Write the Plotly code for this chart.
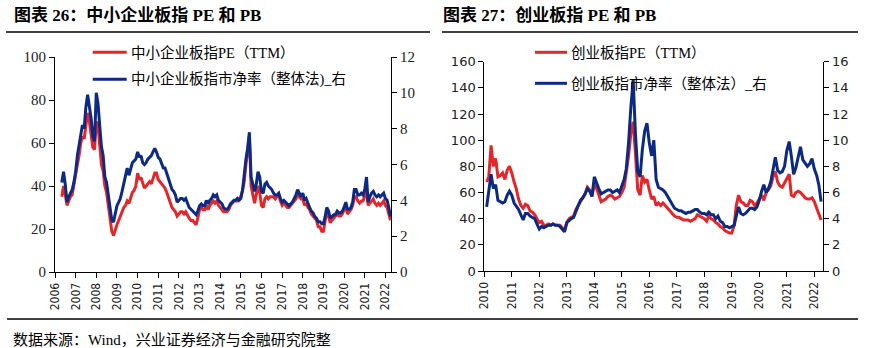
import pandas as pd
import plotly.graph_objects as go

# ---------------- data ----------------
# SME board index (中小企业板指), monthly readings May-2006 .. Apr-2022
sme_dates = pd.date_range("2006-05-01", "2022-04-01", freq="MS")
sme_pe = [
    35, 40, 36, 31, 33, 35, 36, 40,                      # 2006 (May-Dec)
    45, 50, 54, 60, 63, 62, 68, 74, 70, 64, 58, 57,      # 2007
    70, 68, 60, 50, 47, 40, 37, 30, 25, 19, 17, 20,      # 2008
    22, 24, 26, 28, 30, 31, 33, 32, 35, 37, 38, 40,      # 2009
    46, 43, 44, 41, 39, 40, 41, 42, 41, 44, 46, 46,      # 2010
    43, 42, 41, 40, 39, 37, 35, 33, 30, 29, 28, 26,      # 2011
    27, 28, 28, 27, 28, 26, 25, 24, 24, 23, 22, 25,      # 2012
    29, 30, 29, 29, 31, 29, 31, 32, 33, 32, 33, 31,      # 2013
    30, 29, 28, 28, 28, 29, 31, 32, 33, 33, 33, 34,      # 2014
    35, 38, 42, 50, 56, 63, 40, 35, 32, 36, 40, 37,      # 2015
    31, 30, 34, 35, 34, 35, 35, 35, 34, 35, 36, 33,      # 2016
    31, 32, 31, 30, 30, 31, 32, 33, 34, 36, 35, 34,      # 2017
    34, 31, 32, 30, 29, 27, 26, 25, 24, 21, 21, 19,      # 2018
    19, 24, 28, 26, 23, 24, 25, 26, 27, 26, 26, 27,      # 2019
    29, 30, 27, 28, 29, 31, 35, 35, 33, 32, 33, 33,      # 2020
    36, 38, 31, 32, 33, 34, 32, 31, 32, 31, 32, 33,      # 2021
    31, 30, 27, 24,                                      # 2022 (Jan-Apr)
]
sme_pb = [
    5.0, 5.6, 4.9, 3.9, 4.2, 4.4, 4.6, 5.0,
    5.6, 6.5, 7.0, 7.7, 8.2, 8.0, 9.2, 9.9, 9.3, 8.6, 7.6, 7.3,
    10.0, 9.4, 8.2, 7.0, 6.5, 5.3, 5.0, 4.2, 3.6, 2.9, 2.8, 3.3,
    3.7, 3.9, 4.1, 4.5, 5.0, 5.5, 5.8, 5.4, 5.7, 6.1, 6.2, 6.3,
    6.7, 6.4, 6.5, 6.1, 6.0, 6.1, 6.3, 6.4, 6.5, 6.7, 6.9, 6.7,
    6.4, 6.3, 6.1, 5.8, 5.8, 5.5, 5.3, 5.0, 4.6, 4.5, 4.3, 3.9,
    4.0, 4.1, 4.1, 4.0, 4.1, 3.8, 3.6, 3.5, 3.4, 3.3, 3.2, 3.4,
    3.7, 3.8, 3.7, 3.7, 4.0, 3.8, 4.0, 4.1, 4.3, 4.2, 4.3, 4.0,
    3.9, 3.8, 3.6, 3.5, 3.5, 3.6, 3.8, 3.9, 4.0, 4.0, 4.1, 4.0,
    4.1, 4.6, 5.6, 6.3, 6.9, 7.8, 5.3, 4.8, 4.5, 4.9, 5.6, 5.3,
    4.5, 4.4, 4.9, 5.0, 4.8, 4.7, 4.6, 4.4, 4.3, 4.3, 4.4, 4.1,
    3.9, 4.0, 3.9, 3.8, 3.7, 3.8, 3.9, 4.1, 4.3, 4.6, 4.4, 4.2,
    4.4, 4.0, 4.1, 3.8, 3.6, 3.4, 3.3, 3.1, 3.0, 2.8, 2.8, 2.7,
    2.7, 3.1, 3.6, 3.4, 3.0, 3.1, 3.2, 3.2, 3.4, 3.3, 3.3, 3.4,
    3.6, 3.9, 3.5, 3.5, 3.6, 3.9, 4.6, 4.6, 4.3, 4.3, 4.4, 4.3,
    4.6, 5.3, 3.9, 4.2, 4.4, 4.5, 4.3, 4.2, 4.3, 4.2, 4.3, 4.4,
    4.1, 4.0, 3.6, 3.1,
]

# ChiNext index (创业板指), monthly readings Feb-2010 .. Apr-2022
gem_dates = pd.date_range("2010-02-01", "2022-04-01", freq="MS")
gem_pe = [
    68, 72, 96, 80, 86, 72, 73, 75, 70, 77, 80,          # 2010 (Feb-Dec)
    75, 68, 63, 55, 50, 48, 51, 50, 46, 45, 43, 40,      # 2011
    37, 38, 35, 35, 36, 35, 36, 35, 35, 35, 33, 31,      # 2012
    37, 40, 41, 42, 47, 50, 54, 56, 59, 64, 62, 57,      # 2013
    66, 63, 58, 53, 54, 55, 57, 58, 57, 55, 56, 57,      # 2014
    60, 64, 75, 88, 105, 114, 90, 62, 58, 73, 68, 70,    # 2015
    62, 55, 57, 50, 52, 50, 52, 50, 48, 46, 44, 42,      # 2016
    41, 41, 40, 39, 39, 39, 38, 39, 40, 43, 42, 41,      # 2017
    40, 38, 42, 40, 39, 37, 36, 34, 33, 31, 30, 29,      # 2018
    29, 35, 50, 58, 53, 52, 50, 50, 54, 53, 50, 52,      # 2019
    55, 58, 54, 60, 62, 65, 72, 76, 68, 65, 64, 67,      # 2020
    70, 74, 58, 57, 60, 61, 60, 58, 56, 55, 55, 56,      # 2021
    53, 48, 44, 39,                                      # 2022 (Jan-Apr)
]
gem_pb = [
    4.9, 6.0, 7.4, 6.3, 6.6, 5.4, 5.3, 5.2, 5.3, 5.8, 6.1,
    5.8, 5.2, 5.0, 4.7, 4.3, 3.9, 4.4, 4.4, 4.2, 4.1, 4.0, 3.6,
    3.2, 3.4, 3.3, 3.4, 3.5, 3.5, 3.6, 3.5, 3.5, 3.4, 3.2, 3.0,
    3.7, 3.9, 4.0, 4.1, 4.6, 5.0, 5.4, 5.6, 5.9, 6.3, 6.1, 5.7,
    7.2, 6.8, 6.3, 5.9, 6.0, 6.1, 6.2, 6.2, 6.0, 6.1, 6.2, 6.0,
    6.5, 7.0, 7.8, 9.8, 12.5, 14.6, 10.5, 7.6, 7.2, 9.3, 10.7, 11.3,
    9.8, 8.8, 10.0, 7.0, 6.4, 6.3, 6.2, 6.0, 5.7, 5.4, 5.0, 4.8,
    4.7, 4.6, 4.6, 4.5, 4.4, 4.5, 4.5, 4.6, 4.7, 4.7, 4.5, 4.4,
    4.4, 4.3, 4.5, 4.3, 4.3, 4.0, 4.2, 3.8, 3.7, 3.4, 3.4, 3.3,
    3.4, 3.5, 4.2, 4.9, 4.4, 4.3, 4.4, 4.6, 4.8, 4.8, 4.7, 4.9,
    5.4, 6.1, 6.6, 6.0, 6.3, 6.8, 7.8, 8.7, 7.7, 7.5, 7.6, 8.0,
    9.2, 9.9, 8.8, 7.4, 7.9, 8.6, 9.5, 8.5, 8.2, 8.0, 8.2, 8.6,
    7.8, 7.3, 6.6, 5.3,
]

# ---------------- styling ----------------
W, H = 869, 348
RED = "#E3262A"
BLUE = "#0C2A84"
SERIF = "Liberation Serif, Noto Sans CJK SC"
SANS = "DejaVu Sans Condensed, DejaVu Sans"
LINE_W = 3


def px(x):
    return x / W


def py(y):
    return 1 - y / H


fig = go.Figure()

# left panel: SME board
fig.add_trace(go.Scatter(x=sme_dates, y=sme_pe, mode="lines", name="中小企业板指PE（TTM）",
                         line=dict(color=RED, width=LINE_W), xaxis="x", yaxis="y"))
fig.add_trace(go.Scatter(x=sme_dates, y=sme_pb, mode="lines", name="中小企业板指市净率（整体法)_右",
                         line=dict(color=BLUE, width=LINE_W), xaxis="x", yaxis="y2"))
# right panel: ChiNext
fig.add_trace(go.Scatter(x=gem_dates, y=gem_pe, mode="lines", name="创业板指PE（TTM）",
                         line=dict(color=RED, width=LINE_W), xaxis="x2", yaxis="y3"))
fig.add_trace(go.Scatter(x=gem_dates, y=gem_pb, mode="lines", name="创业板指市净率（整体法）_右",
                         line=dict(color=BLUE, width=LINE_W), xaxis="x2", yaxis="y4"))

axis_common = dict(showgrid=False, zeroline=False, showline=True, linecolor="black",
                   linewidth=1, ticks="outside", ticklen=5, tickcolor="black", tickwidth=1,
                   automargin=False)

xfont = dict(family=SANS, size=12, color="#222")
serif_tick = dict(family="Liberation Serif", size=15, color="#222")
sans_tick = dict(family="DejaVu Sans", size=13, color="#222")

fig.update_layout(
    width=W, height=H,
    margin=dict(l=0, r=0, t=0, b=0, pad=0),
    paper_bgcolor="white", plot_bgcolor="white",
    showlegend=False,
    xaxis=dict(**axis_common, domain=[px(55), px(391)], anchor="y",
               range=["2006-01-01", "2022-04-10"], tick0="2006-01-01", dtick="M12",
               tickformat="%Y", tickangle=-90, tickfont=xfont),
    yaxis=dict(**axis_common, domain=[py(272), py(57)], anchor="x", range=[0, 100], dtick=20,
               tickfont=serif_tick),
    yaxis2=dict(**axis_common, overlaying="y", side="right", anchor="x", range=[0, 12], dtick=2,
                tickfont=serif_tick),
    xaxis2=dict(**axis_common, domain=[px(484.3), px(823.3)], anchor="y3",
                range=["2010-01-01", "2022-04-30"], tick0="2010-01-01", dtick="M12",
                tickformat="%Y", tickangle=-90, tickfont=xfont),
    yaxis3=dict(**axis_common, domain=[py(271), py(61.7)], anchor="x2", range=[0, 160], dtick=20,
                tickfont=sans_tick),
    yaxis4=dict(**axis_common, overlaying="y3", side="right", anchor="x2", range=[0, 16], dtick=2,
                tickfont=sans_tick),
)

shapes = []
annotations = []

# section titles and rules
for x0, title in [(13, "图表 26：中小企业板指 PE 和 PB"), (442, "图表 27：创业板指 PE 和 PB")]:
    annotations.append(dict(x=px(x0), y=py(15), xref="paper", yref="paper", text=f"<b>{title}</b>",
                            showarrow=False, xanchor="left", yanchor="middle", borderpad=0,
                            font=dict(family=SERIF, size=17, color="black")))
for x0, x1 in [(6, 430), (442, 858)]:
    shapes.append(dict(type="line", xref="paper", yref="paper", x0=px(x0), x1=px(x1),
                       y0=py(32), y1=py(32), line=dict(color="black", width=1.5)))
shapes.append(dict(type="line", xref="paper", yref="paper", x0=px(7), x1=px(858),
                   y0=py(319), y1=py(319), line=dict(color="black", width=1.5)))

# legends
legend_items = [
    (92.7, 126.7, 52.3, RED, "中小企业板指PE（TTM）"),
    (92.7, 126.7, 79.3, BLUE, "中小企业板指市净率（整体法)_右"),
    (535, 567, 52.3, RED, "创业板指PE（TTM）"),
    (535, 567, 83.3, BLUE, "创业板指市净率（整体法）_右"),
]
for x0, x1, yy, col, label in legend_items:
    shapes.append(dict(type="line", xref="paper", yref="paper", x0=px(x0), x1=px(x1),
                       y0=py(yy), y1=py(yy), line=dict(color=col, width=3)))
    annotations.append(dict(x=px(x1 + 3), y=py(yy), xref="paper", yref="paper", text=label,
                            showarrow=False, xanchor="left", yanchor="middle", borderpad=0,
                            font=dict(family=SERIF, size=14.5, color="black")))

# source note
annotations.append(dict(x=px(12), y=py(339), xref="paper", yref="paper",
                        text="数据来源：Wind，兴业证券经济与金融研究院整",
                        showarrow=False, xanchor="left", yanchor="middle", borderpad=0,
                        font=dict(family=SERIF, size=15, color="black")))

fig.update_layout(shapes=shapes, annotations=annotations)
fig.write_html("out.html")
